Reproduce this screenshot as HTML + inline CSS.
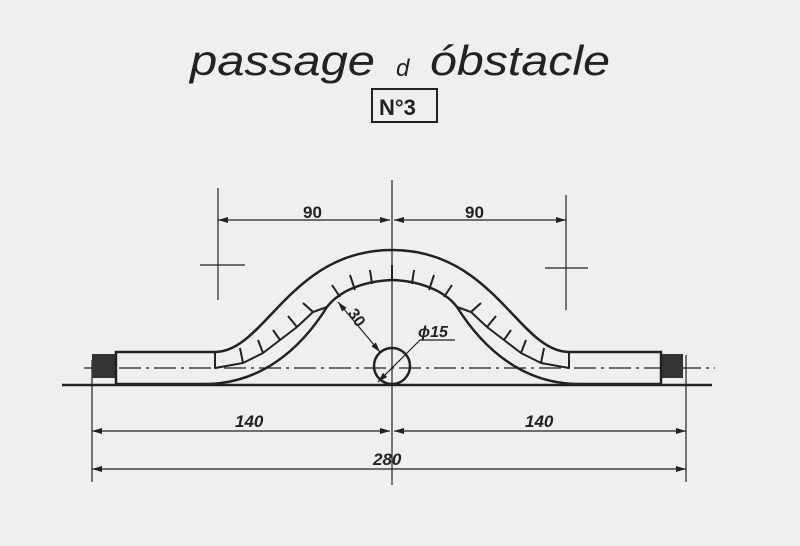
<!DOCTYPE html>
<html><head><meta charset="utf-8"><style>
html,body{margin:0;padding:0;background:#efefed;}
svg{display:block}
text{font-family:"Liberation Sans",sans-serif;fill:#222;font-weight:bold}
</style></head><body>
<svg width="800" height="546" viewBox="0 0 800 546" xmlns="http://www.w3.org/2000/svg">
<defs>
<marker id="a" viewBox="0 0 10 6" refX="10" refY="3" markerWidth="10" markerHeight="6" orient="auto-start-reverse" markerUnits="userSpaceOnUse"><path d="M0,0L10,3L0,6z" fill="#222"/></marker>
</defs>
<rect width="800" height="546" fill="#efefed"/>
<!-- title -->
<text x="190" y="75" font-size="42" font-style="italic" textLength="185" lengthAdjust="spacingAndGlyphs" style="font-weight:normal">passage</text>
<text x="396" y="76" font-size="24" font-style="italic" style="font-weight:normal">d</text>
<text x="430" y="75" font-size="42" font-style="italic" textLength="180" lengthAdjust="spacingAndGlyphs" style="font-weight:normal">óbstacle</text>
<rect x="372" y="89" width="65" height="33" fill="none" stroke="#222" stroke-width="2"/>
<text x="379" y="115" font-size="22">N°3</text>
<!-- dims -->
<g stroke="#222" stroke-width="1.2" fill="none">
<line x1="218" y1="188" x2="218" y2="300"/>
<line x1="566" y1="195" x2="566" y2="310"/>
<line x1="200" y1="265" x2="245" y2="265"/>
<line x1="545" y1="268" x2="588" y2="268"/>
<line x1="392" y1="180" x2="392" y2="485"/>
<line x1="218" y1="220" x2="390" y2="220" marker-start="url(#a)" marker-end="url(#a)"/>
<line x1="394" y1="220" x2="566" y2="220" marker-start="url(#a)" marker-end="url(#a)"/>
<line x1="92" y1="360" x2="92" y2="482"/>
<line x1="686" y1="355" x2="686" y2="482"/>
<line x1="92" y1="431" x2="390" y2="431" marker-start="url(#a)" marker-end="url(#a)"/>
<line x1="394" y1="431" x2="686" y2="431" marker-start="url(#a)" marker-end="url(#a)"/>
<line x1="92" y1="469" x2="686" y2="469" marker-start="url(#a)" marker-end="url(#a)"/>
<line x1="84" y1="368" x2="715" y2="368" stroke-dasharray="22,5,3,5"/>
</g>
<text x="303" y="218" font-size="17">90</text>
<text x="465" y="218" font-size="17">90</text>
<text x="235" y="427" font-size="17" font-style="italic">140</text>
<text x="525" y="427" font-size="17" font-style="italic">140</text>
<text x="373" y="465" font-size="17" font-style="italic">280</text>
<!-- ground -->
<line x1="62" y1="385" x2="712" y2="385" stroke="#222" stroke-width="2.5"/>
<rect x="92" y="354" width="24" height="24" fill="#333"/>
<rect x="661" y="354" width="22" height="24" fill="#333"/>
<!-- arch -->
<g stroke="#222" stroke-width="2.5" fill="none">
<path d="M116,384 L116,352 L215,352 C265,352 290,250 392,250 C494,250 519,352 569,352 L661,352 L661,384"/>
<path d="M116,384 L205,384 C260,384 300,350 327,307 C340,290 365,281 392,280 C419,281 444,290 457,307 C484,350 524,384 579,384 L661,384"/>
</g>
<g stroke="#222" stroke-width="2" fill="none" stroke-linejoin="round">
<path d="M215,352 L215,368 L243,363 L263,353 L280,340 L297,327 L313,312 L327,307"/>
<path d="M569,352 L569,368 L541,363 L521,353 L504,340 L487,327 L471,312 L457,307"/>
<path d="M243,363 L240,348 M263,353 L258,340 M280,340 L273,330 M297,327 L288,316 M313,312 L303,303 M340,297 L332,285 M355,290 L350,275 M372,284 L370,270 M392,280 L392,265 M412,284 L414,270 M429,290 L434,275 M444,297 L452,285 M471,312 L481,303 M487,327 L496,316 M504,340 L511,330 M521,353 L526,340 M541,363 L544,348"/>
</g>
<!-- circle -->
<circle cx="392" cy="366" r="18" fill="none" stroke="#222" stroke-width="2.5"/>
<g stroke="#222" stroke-width="1.2" fill="none">
<line x1="338" y1="302" x2="380" y2="352" marker-start="url(#a)" marker-end="url(#a)"/>
<line x1="378" y1="382" x2="420" y2="340" marker-start="url(#a)"/>
<line x1="420" y1="340" x2="455" y2="340"/>
</g>
<text x="350" y="322" font-size="16" transform="rotate(55 357 315)">30</text>
<text x="418" y="337" font-size="16" font-style="italic">ϕ15</text>
</svg>
</body></html>
